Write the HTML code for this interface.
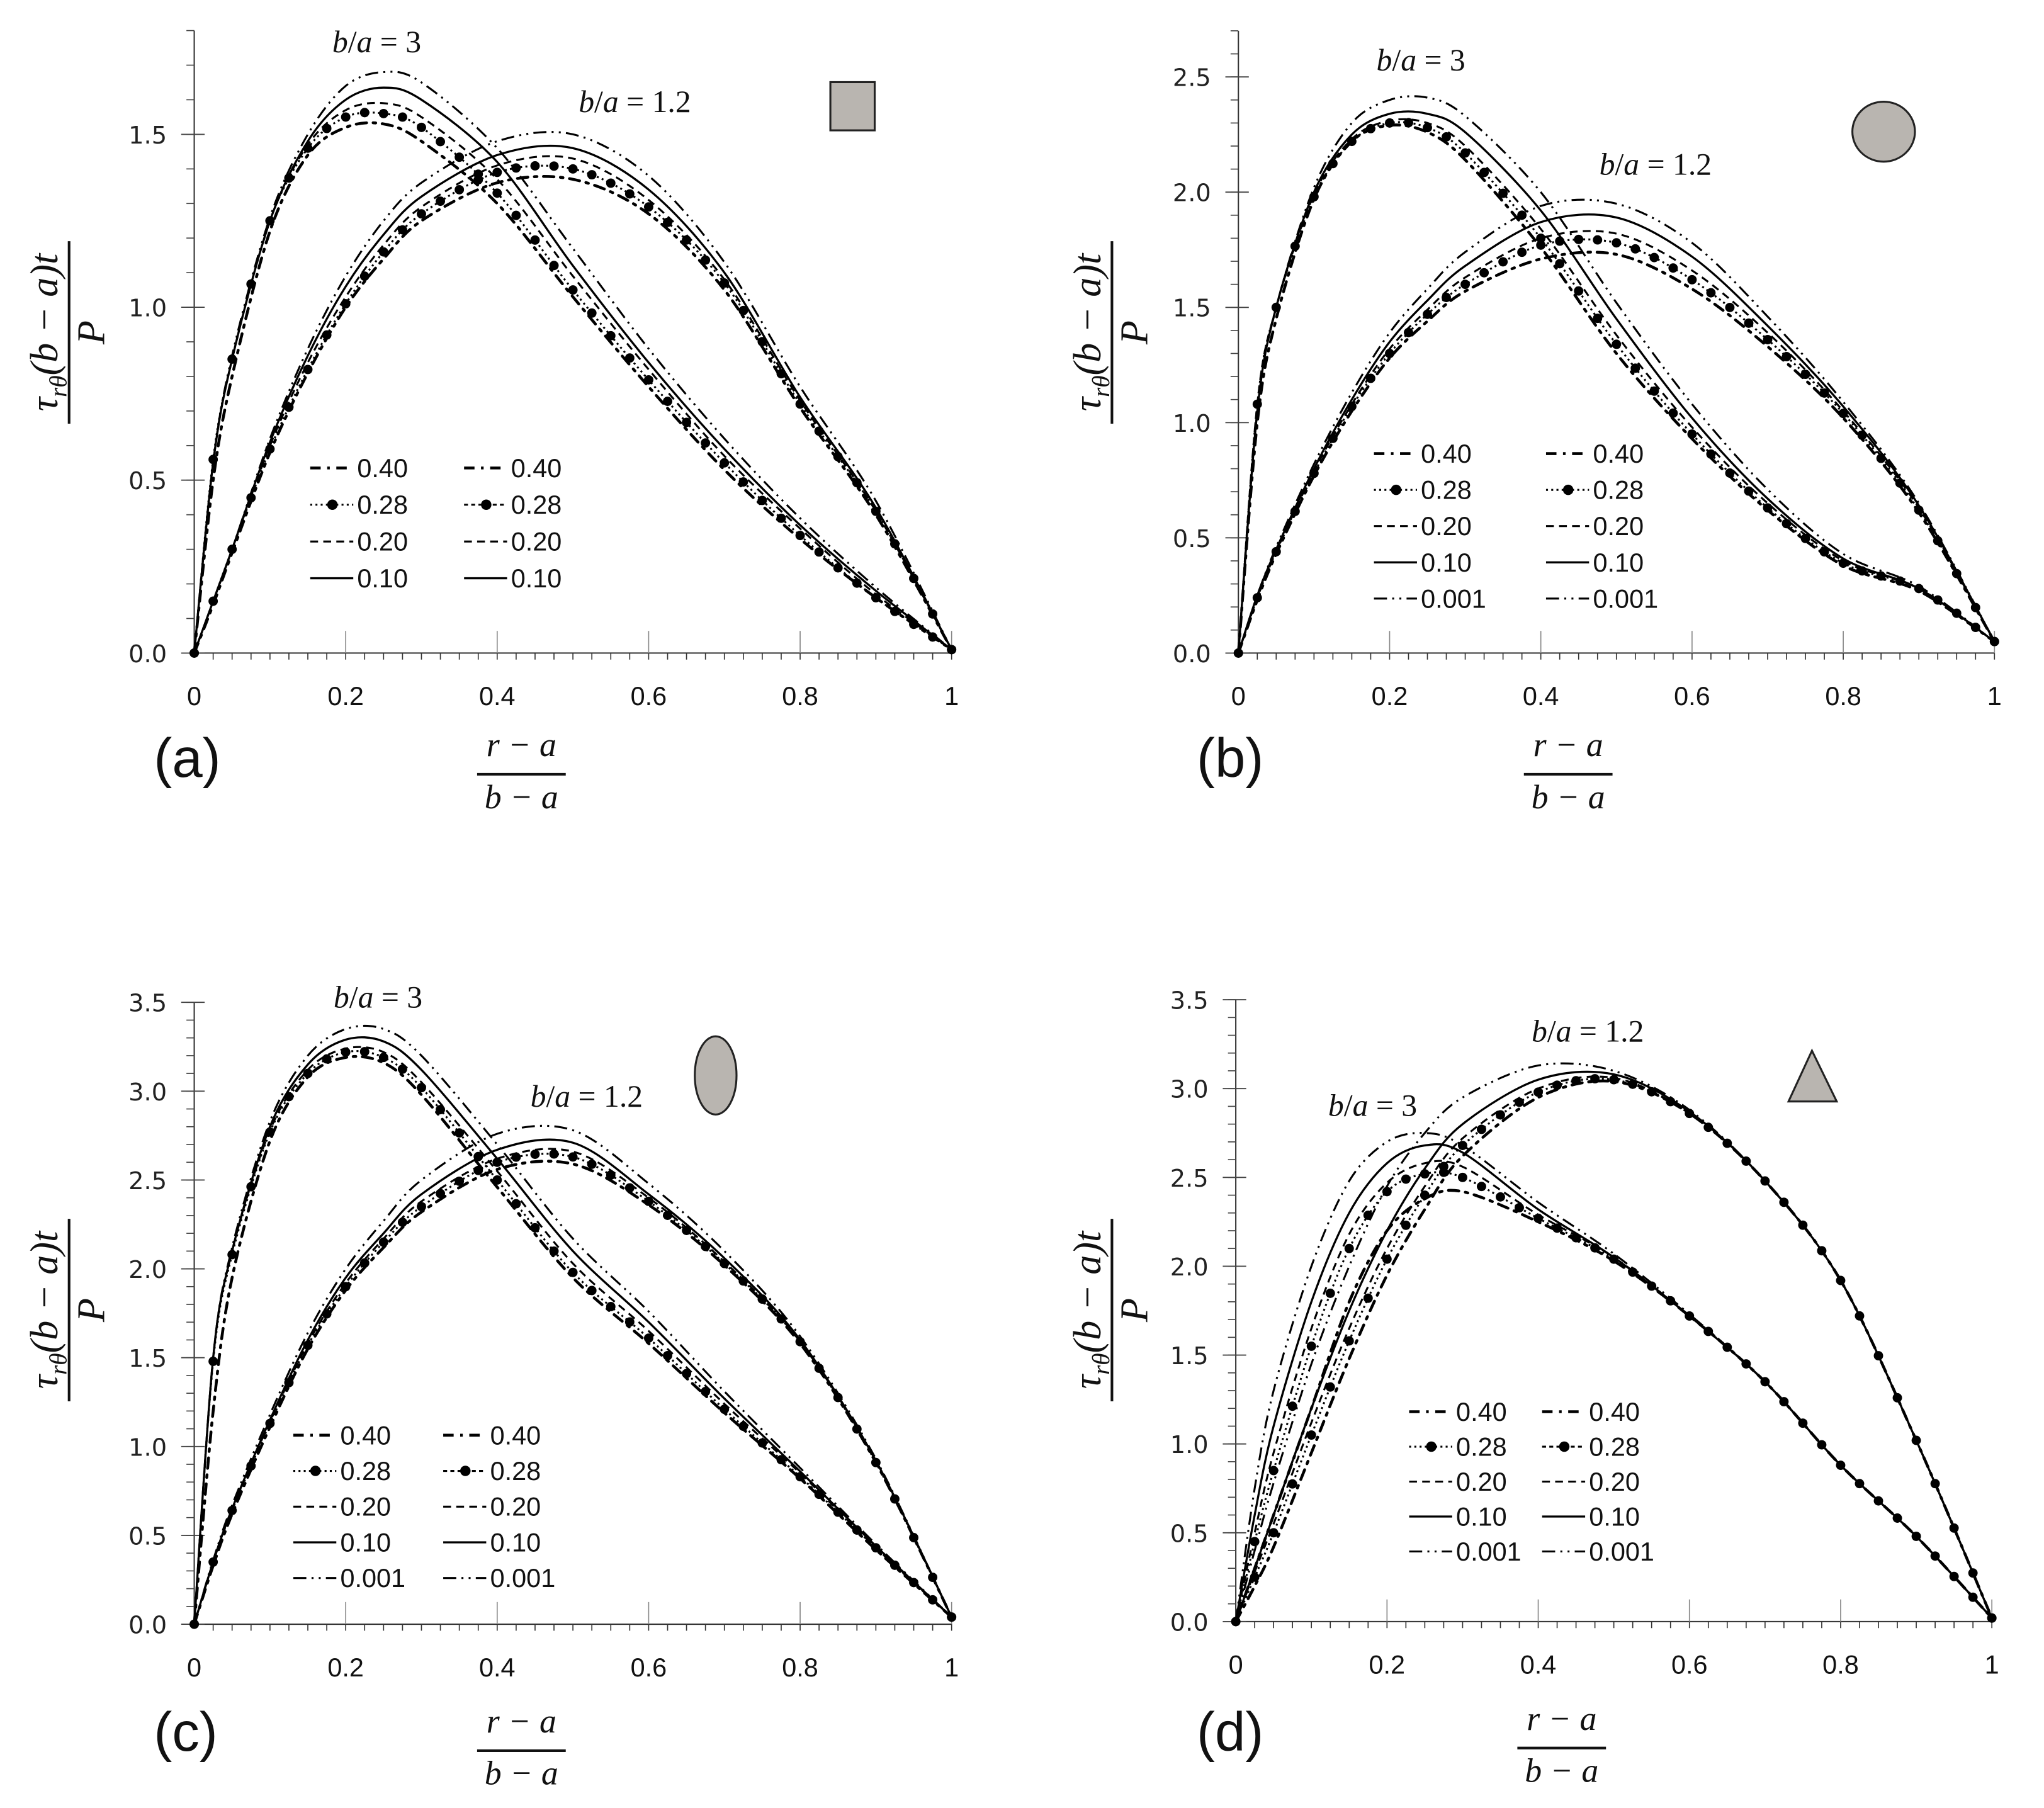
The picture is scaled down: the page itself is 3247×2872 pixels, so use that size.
<!DOCTYPE html>
<html><head><meta charset="utf-8"><style>
html,body{margin:0;padding:0;background:#fff;}
svg{display:block;}
</style></head><body>
<svg id="fig" width="3247" height="2872" viewBox="0 0 1568 1387" preserveAspectRatio="none" xmlns="http://www.w3.org/2000/svg">
<rect width="1568" height="1387" fill="#ffffff"/>
</svg>
<script>
const xs=[0,0.025,0.05,0.1,0.15,0.2,0.25,0.3,0.4,0.5,0.6,0.7,0.8,0.9,1];
const yTicksA=[0,0.5,1.0,1.5], yTicksB=[0,0.5,1.0,1.5,2.0,2.5], yTicksCD=[0,0.5,1.0,1.5,2.0,2.5,3.0,3.5];
const xTicks=[0,0.2,0.4,0.6,0.8,1];
const xTickLabels=['0','0.2','0.4','0.6','0.8','1'];
const seriesNames=['0.40','0.28','0.20','0.10','0.001'];
// Panel a
const a3_040=[0,0.50,0.80,1.22,1.44,1.52,1.53,1.48,1.30,1.03,0.77,0.53,0.33,0.16,0.01];
const a3_028=[0,0.56,0.85,1.25,1.46,1.55,1.56,1.52,1.33,1.05,0.79,0.55,0.34,0.16,0.01];
const a3_020=[0,0.55,0.85,1.25,1.47,1.57,1.59,1.55,1.37,1.09,0.82,0.57,0.36,0.17,0.01];
const a3_010=[0,0.55,0.85,1.25,1.48,1.60,1.635,1.60,1.42,1.12,0.84,0.59,0.37,0.18,0.01];
const a3_0001=[0,0.55,0.86,1.26,1.50,1.64,1.68,1.65,1.46,1.17,0.88,0.62,0.39,0.19,0.01];
const a12_040=[0,0.14,0.29,0.58,0.81,1.00,1.14,1.25,1.36,1.37,1.27,1.05,0.71,0.40,0.01];
const a12_028=[0,0.15,0.30,0.59,0.82,1.01,1.16,1.27,1.39,1.40,1.29,1.07,0.72,0.41,0.01];
const a12_020=[0,0.15,0.30,0.60,0.84,1.03,1.18,1.29,1.41,1.43,1.31,1.08,0.73,0.41,0.01];
const a12_010=[0,0.15,0.30,0.61,0.86,1.06,1.21,1.32,1.44,1.46,1.34,1.10,0.74,0.42,0.01];
const a12_0001=[0,0.15,0.30,0.62,0.88,1.09,1.25,1.36,1.48,1.50,1.38,1.13,0.77,0.44,0.01];
// Panel b
const b3_040=[0,1.00,1.45,1.97,2.22,2.29,2.26,2.14,1.76,1.30,0.93,0.62,0.38,0.27,0.05];
const b3_028=[0,1.08,1.50,1.98,2.22,2.30,2.28,2.17,1.80,1.34,0.95,0.63,0.39,0.28,0.05];
const b3_020=[0,1.08,1.50,1.99,2.23,2.31,2.30,2.20,1.84,1.38,0.98,0.65,0.40,0.28,0.05];
const b3_010=[0,1.05,1.50,2.00,2.25,2.34,2.34,2.26,1.92,1.45,1.02,0.67,0.41,0.28,0.05];
const b3_0001=[0,1.05,1.50,2.02,2.30,2.40,2.41,2.33,2.00,1.52,1.08,0.71,0.43,0.29,0.05];
const b12_040=[0,0.23,0.43,0.77,1.05,1.28,1.44,1.57,1.71,1.73,1.58,1.33,1.02,0.61,0.05];
const b12_028=[0,0.24,0.44,0.78,1.07,1.30,1.47,1.60,1.77,1.78,1.62,1.36,1.04,0.62,0.05];
const b12_020=[0,0.24,0.44,0.79,1.08,1.32,1.49,1.63,1.80,1.82,1.66,1.39,1.05,0.63,0.05];
const b12_010=[0,0.25,0.45,0.80,1.10,1.35,1.53,1.68,1.87,1.89,1.72,1.42,1.07,0.64,0.05];
const b12_0001=[0,0.25,0.46,0.82,1.13,1.39,1.58,1.74,1.94,1.95,1.78,1.46,1.09,0.65,0.05];
// Panel c
const c3_040=[0,1.20,1.95,2.72,3.08,3.19,3.16,2.98,2.46,1.95,1.58,1.19,0.82,0.42,0.04];
const c3_028=[0,1.48,2.08,2.77,3.10,3.22,3.19,3.02,2.50,1.98,1.61,1.21,0.83,0.43,0.04];
const c3_020=[0,1.50,2.10,2.78,3.12,3.24,3.22,3.05,2.55,2.03,1.65,1.24,0.85,0.43,0.04];
const c3_010=[0,1.50,2.10,2.80,3.15,3.29,3.28,3.12,2.62,2.10,1.70,1.27,0.86,0.44,0.04];
const c3_0001=[0,1.50,2.12,2.83,3.20,3.35,3.35,3.20,2.70,2.17,1.76,1.31,0.88,0.45,0.04];
const c12_040=[0,0.33,0.62,1.11,1.55,1.88,2.12,2.32,2.56,2.59,2.36,2.02,1.58,0.91,0.04];
const c12_028=[0,0.35,0.64,1.13,1.57,1.90,2.15,2.35,2.60,2.63,2.38,2.03,1.59,0.91,0.04];
const c12_020=[0,0.35,0.65,1.14,1.58,1.92,2.17,2.38,2.62,2.66,2.40,2.04,1.59,0.92,0.04];
const c12_010=[0,0.35,0.65,1.15,1.60,1.95,2.20,2.42,2.67,2.71,2.42,2.06,1.60,0.92,0.04];
const c12_0001=[0,0.36,0.67,1.18,1.64,2.00,2.27,2.50,2.76,2.78,2.48,2.10,1.62,0.93,0.04];
// Panel d
const d3_040=[0,0.30,0.60,1.20,1.80,2.20,2.38,2.42,2.25,2.03,1.72,1.35,0.88,0.48,0.02];
const d3_028=[0,0.45,0.85,1.55,2.10,2.42,2.52,2.50,2.27,2.04,1.72,1.35,0.88,0.48,0.02];
const d3_020=[0,0.50,0.95,1.65,2.18,2.47,2.58,2.56,2.29,2.05,1.72,1.35,0.88,0.48,0.02];
const d3_010=[0,0.60,1.10,1.80,2.30,2.58,2.68,2.64,2.32,2.05,1.72,1.35,0.88,0.48,0.02];
const d3_0001=[0,0.75,1.30,2.00,2.48,2.70,2.75,2.68,2.36,2.07,1.73,1.35,0.88,0.48,0.02];
const d12_040=[0,0.20,0.42,0.95,1.48,1.95,2.32,2.62,2.95,3.04,2.86,2.48,1.92,1.02,0.02];
const d12_028=[0,0.25,0.50,1.05,1.58,2.04,2.40,2.68,2.98,3.05,2.86,2.48,1.92,1.02,0.02];
const d12_020=[0,0.28,0.55,1.12,1.65,2.10,2.45,2.72,3.00,3.06,2.86,2.48,1.92,1.02,0.02];
const d12_010=[0,0.30,0.60,1.20,1.75,2.20,2.55,2.80,3.05,3.08,2.87,2.48,1.92,1.02,0.02];
const d12_0001=[0,0.40,0.78,1.45,2.00,2.45,2.75,2.95,3.13,3.10,2.88,2.48,1.92,1.02,0.02];

const NS='http://www.w3.org/2000/svg';
const svg=document.getElementById('fig');
function el(tag,attrs,parent){const e=document.createElementNS(NS,tag);for(const k in attrs)e.setAttribute(k,attrs[k]);(parent||svg).appendChild(e);return e;}

const STY={
 '0.40':{dash:'8,5,2,5',w:2.2,marker:null},
 '0.28':{dash:'1.5,2.5',w:1.5,marker:'dot'},
 '0.20':{dash:'6,4',w:1.5,marker:null},
 '0.10':{dash:'',w:1.6,marker:null},
 '0.001':{dash:'10,4,1.5,4,1.5,4',w:1.5,marker:null}
};

function pathFrom(pts){
 let d='M'+pts[0][0].toFixed(2)+','+pts[0][1].toFixed(2);
 for(let i=0;i<pts.length-1;i++){
  const p0=pts[Math.max(0,i-1)],p1=pts[i],p2=pts[i+1],p3=pts[Math.min(pts.length-1,i+2)];
  const t=0.16;
  const c1x=p1[0]+(p2[0]-p0[0])*t,c1y=p1[1]+(p2[1]-p0[1])*t;
  const c2x=p2[0]-(p3[0]-p1[0])*t,c2y=p2[1]-(p3[1]-p1[1])*t;
  d+=' C'+c1x.toFixed(2)+','+c1y.toFixed(2)+' '+c2x.toFixed(2)+','+c2y.toFixed(2)+' '+p2[0].toFixed(2)+','+p2[1].toFixed(2);
 }
 return d;
}

function pointAtX(path,tx){
 const L=path.getTotalLength();
 let lo=0,hi=L;
 for(let k=0;k<30;k++){const m=(lo+hi)/2;const p=path.getPointAtLength(m);if(p.x<tx)lo=m;else hi=m;}
 return path.getPointAtLength((lo+hi)/2);
}

function panel(cfg){
 const g=el('g',{});
 
 
 const X=v=>cfg.x0+(cfg.x1-cfg.x0)*v;
 const Y=v=>cfg.y0-cfg.ppu*v;
 const xa=el('line',{x1:cfg.x0,y1:cfg.y0,x2:cfg.x1,y2:cfg.y0,stroke:'#333','stroke-width':1},g);
 
 
 for(let i=1;i<=40;i++){const xv=X(i/40);
  el('line',{x1:xv,y1:cfg.y0,x2:xv,y2:cfg.y0+5,stroke:'#333','stroke-width':0.8},g);}
 xTicks.forEach((v,i)=>{
  el('line',{x1:X(v),y1:cfg.y0,x2:X(v),y2:cfg.y0-17,stroke:'#888','stroke-width':0.8},g);
  const t=el('text',{x:X(v),y:cfg.y0+40,'text-anchor':'middle','font-family':'Liberation Sans, sans-serif','font-size':20,fill:'#111'},g);
  t.textContent=xTickLabels[i];
  
  
 });
 const ya=el('line',{x1:cfg.x0,y1:cfg.y0,x2:cfg.x0,y2:Y(cfg.ymax),stroke:'#333','stroke-width':1},g);
 
 
 for(let i=1;i<=Math.round(cfg.ymax*10);i++){const yv=Y(i/10);
  el('line',{x1:cfg.x0-6,y1:yv,x2:cfg.x0,y2:yv,stroke:'#444','stroke-width':0.8},g);}
 cfg.yticks.forEach(v=>{
  el('line',{x1:cfg.x0-10,y1:Y(v),x2:cfg.x0+8,y2:Y(v),stroke:'#444','stroke-width':0.9},g);
  const t=el('text',{x:cfg.x0-21,y:Y(v)+7,'text-anchor':'end','font-family':'DejaVu Sans, sans-serif','font-size':18.5,fill:'#222'},g);
  t.textContent=v.toFixed(1);
  
  
 });
 cfg.series.forEach(s=>{
  const st=STY[s.name];
  const pts=xs.map((x,i)=>[X(x),Y(s.vals[i])]);
  const p=el('path',{d:pathFrom(pts),fill:'none',stroke:'#000','stroke-width':st.w,'stroke-dasharray':st.dash,'stroke-linecap':s.name==='0.40'?'round':'butt'},g);
  
  
  if(st.marker==='dot'){
   for(let k=0;k<=40;k++){
    const tx=X(k/40);
    const pt=k===0?{x:pts[0][0],y:pts[0][1]}:(k===40?{x:pts[pts.length-1][0],y:pts[pts.length-1][1]}:pointAtX(p,tx));
    const c=el('circle',{cx:pt.x,cy:pt.y,r:3.6,fill:'#000'},g);
    
    
   }
  }
 });
 const lg=el('g',{},g);
 
 
 cfg.legendNames.forEach((nm,r)=>{
  [0,1].forEach(col=>{
   const lx=cfg.leg[col], ly=cfg.legY+r*cfg.legDy;
   const st=STY[nm];
   let dash=st.dash;
   if(nm==='0.28'&&col===1&&cfg.id!=='b') dash='3,2.5';
   const ln=el('line',{x1:lx,y1:ly-7,x2:lx+33,y2:ly-7,stroke:'#000','stroke-width':st.w,'stroke-dasharray':dash},lg);
   
   
   if(nm==='0.28') el('circle',{cx:lx+17,cy:ly-7,r:4,fill:'#000'},lg);
   const t=el('text',{x:lx+36,y:ly,'font-family':'Liberation Sans, sans-serif','font-size':20,fill:'#111'},lg);
   t.textContent=nm;
   
   
  });
 });
 cfg.ba.forEach(b=>{
  const t=el('text',{x:b[1],y:b[2],'text-anchor':'middle','font-family':'Liberation Serif, serif','font-size':24,fill:'#111'},g);
  t.innerHTML='<tspan font-style="italic">b</tspan>/<tspan font-style="italic">a</tspan> = '+b[0];
  
  
 });
 const pl=el('text',{x:cfg.letter[0],y:cfg.letter[1],'font-family':'Liberation Sans, sans-serif','font-size':42,fill:'#111'},g);
 pl.textContent='('+cfg.id+')';
 
 
 const xl=el('g',{},g);
 
 
 const n=el('text',{x:cfg.xl[0],y:cfg.xl[1],'text-anchor':'middle','font-family':'Liberation Serif, serif','font-style':'italic','font-size':26,fill:'#111'},xl);
 n.textContent='r − a';
 el('line',{x1:cfg.xl[0]-34,y1:cfg.xl[1]+14,x2:cfg.xl[0]+34,y2:cfg.xl[1]+14,stroke:'#111','stroke-width':2},xl);
 const dn=el('text',{x:cfg.xl[0],y:cfg.xl[1]+40,'text-anchor':'middle','font-family':'Liberation Serif, serif','font-style':'italic','font-size':26,fill:'#111'},xl);
 dn.textContent='b − a';
 const yl=el('g',{transform:'translate('+cfg.yl[0]+','+cfg.yl[1]+') rotate(-90)'},g);
 
 
 const yn=el('text',{x:0,y:-9,'text-anchor':'middle','font-family':'Liberation Serif, serif','font-style':'italic','font-size':30,fill:'#111'},yl);
 yn.innerHTML='τ<tspan font-size="19" dy="7">rθ</tspan><tspan dy="-7">(b − a)t</tspan>';
 el('line',{x1:-70,y1:0,x2:70,y2:0,stroke:'#111','stroke-width':2},yl);
 const yd=el('text',{x:0,y:27,'text-anchor':'middle','font-family':'Liberation Serif, serif','font-style':'italic','font-size':30,fill:'#111'},yl);
 yd.textContent='P';
 const ic=el(cfg.icon.tag,Object.assign({fill:'#b9b5b0',stroke:'#222','stroke-width':1.5},cfg.icon.a),g);
 
 
}

function ser(f3,f12){
 const out=[];
 seriesNames.forEach((nm,i)=>{out.push({name:nm,fam:'3',vals:f3[i]});out.push({name:nm,fam:'1.2',vals:f12[i]});});
 return out;
}

panel({id:'a',x0:149,x1:730,y0:501,ppu:265.3,ymax:1.8,yticks:yTicksA,
 series:ser([a3_040,a3_028,a3_020,a3_010,a3_0001],[a12_040,a12_028,a12_020,a12_010,a12_0001]),
 legendNames:['0.40','0.28','0.20','0.10'],leg:[238,356],legY:366,legDy:28.2,
 ba:[['3',289,40],['1.2',487,86]],letter:[118,596],xl:[400,580],yl:[53,255],
 icon:{tag:'rect',a:{x:637,y:63,width:34,height:37}}});
panel({id:'b',x0:950,x1:1530,y0:501,ppu:176.8,ymax:2.7,yticks:yTicksB,
 series:ser([b3_040,b3_028,b3_020,b3_010,b3_0001],[b12_040,b12_028,b12_020,b12_010,b12_0001]),
 legendNames:['0.40','0.28','0.20','0.10','0.001'],leg:[1054,1186],legY:355,legDy:27.8,
 ba:[['3',1090,54],['1.2',1270,134]],letter:[918,596],xl:[1203,580],yl:[853,255],
 icon:{tag:'ellipse',a:{cx:1445,cy:101,rx:24,ry:23}}});
panel({id:'c',x0:149,x1:730,y0:1246,ppu:136.3,ymax:3.5,yticks:yTicksCD,
 series:ser([c3_040,c3_028,c3_020,c3_010,c3_0001],[c12_040,c12_028,c12_020,c12_010,c12_0001]),
 legendNames:['0.40','0.28','0.20','0.10','0.001'],leg:[225,340],legY:1108,legDy:27.4,
 ba:[['3',290,773],['1.2',450,849]],letter:[118,1343],xl:[400,1329],yl:[53,1005],
 icon:{tag:'ellipse',a:{cx:549,cy:825,rx:16,ry:30}}});
panel({id:'d',x0:948,x1:1528,y0:1244,ppu:136.3,ymax:3.5,yticks:yTicksCD,
 series:ser([d3_040,d3_028,d3_020,d3_010,d3_0001],[d12_040,d12_028,d12_020,d12_010,d12_0001]),
 legendNames:['0.40','0.28','0.20','0.10','0.001'],leg:[1081,1183],legY:1090,legDy:26.8,
 ba:[['1.2',1218,799],['3',1053,856]],letter:[918,1343],xl:[1198,1327],yl:[853,1005],
 icon:{tag:'polygon',a:{points:'1372,845 1409,845 1390,806'}}});
</script>
</body></html>
